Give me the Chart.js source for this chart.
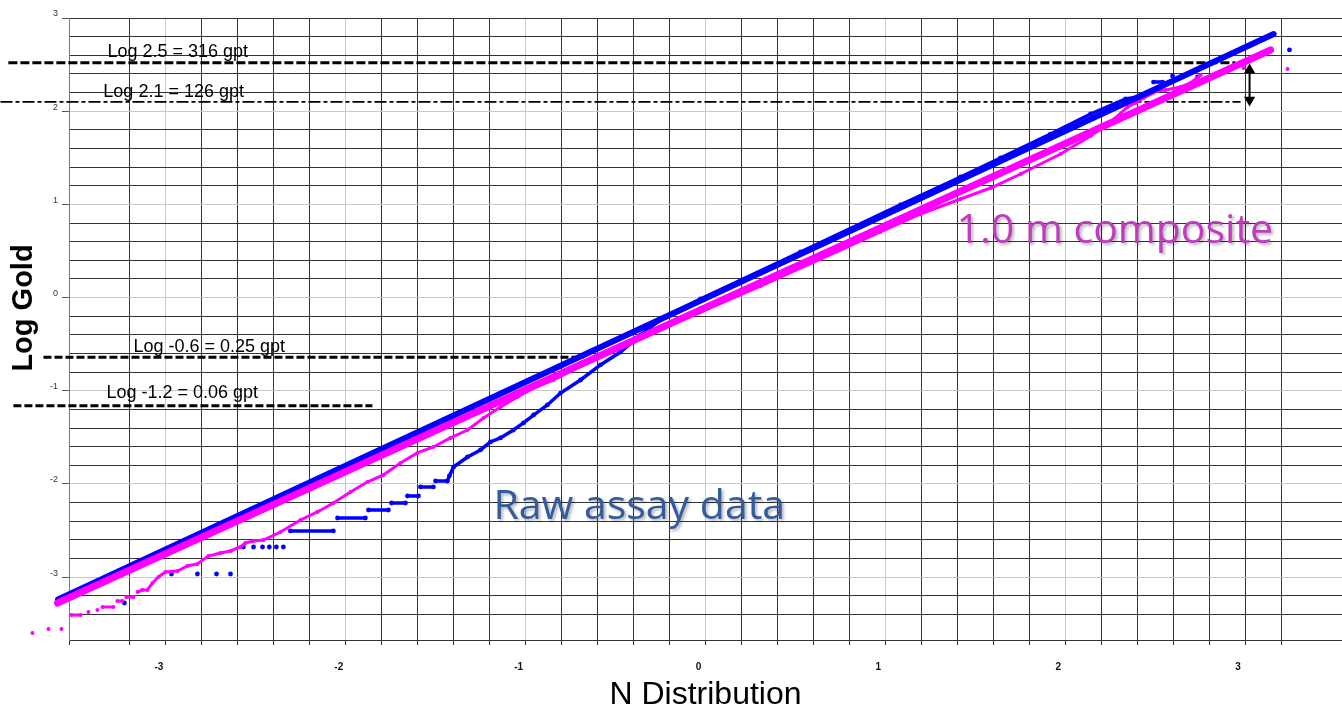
<!DOCTYPE html>
<html>
<head>
<meta charset="utf-8">
<title>Log Gold probability plot</title>
<script src="https://cdn.jsdelivr.net/npm/chart.js@4.4.0/dist/chart.umd.min.js"></script>
<style>
  body { margin: 0; background: #fff; }
  canvas { display: block; }
</style>
</head>
<body>
<canvas id="myChart" width="1342" height="711"></canvas>
<script>
// tick labels shown on the axes
const xTickLabels = [-3, -2, -1, 0, 1, 2, 3];
const yTickLabels = [-3, -2, -1, 0, 1, 2, 3];

// fitted normal lines (end points)
const blueFit = [[-3.6, -3.24], [3.159, 2.828]];
const pinkFit = [[-3.603, -3.277], [3.142, 2.657]];

// raw assay data (blue), null = gap between runs
const blueRaw = [
    [-3.231, -3.277], null,
    [-2.969, -2.966], null, [-2.825, -2.966], null, [-2.719, -2.966], null, [-2.641, -2.966], null,
    [-2.569, -2.676], null, [-2.513, -2.676], null, [-2.463, -2.676], null,
    [-2.425, -2.676], null, [-2.386, -2.676], null, [-2.347, -2.676], null,
    [-2.308, -2.504], [-2.069, -2.504], null,
    [-2.046, -2.365], [-1.891, -2.365], null,
    [-1.874, -2.279], [-1.763, -2.279], null,
    [-1.746, -2.204], [-1.668, -2.204], null,
    [-1.657, -2.129], [-1.596, -2.129], null,
    [-1.585, -2.032], [-1.513, -2.032], null,
    [-1.501, -1.968], [-1.435, -1.968],
    [-1.424, -1.914], [-1.401, -1.818], [-1.323, -1.710], [-1.251, -1.635], [-1.196, -1.549],
    [-1.140, -1.506], [-1.068, -1.421], [-1.012, -1.345], [-0.956, -1.260], [-0.879, -1.152],
    [-0.806, -1.024], [-0.695, -0.884], [-0.584, -0.723], [-0.473, -0.584], [-0.361, -0.401],
    [-0.250, -0.240], [-0.028, -0.015], [0.528, 0.489], [1.084, 0.994], [1.418, 1.294],
    [1.640, 1.498], [1.918, 1.755], [2.141, 1.970], [2.336, 2.131], [2.402, 2.152], null,
    [2.491, 2.313], [2.541, 2.313], null, [2.597, 2.378], null, [2.736, 2.367], null,
    [3.247, 2.657]
];

// 1.0 m composite data (magenta)
const pinkComp = [
    [-3.742, -3.599], null, [-3.653, -3.556], null, [-3.581, -3.556], null,
    [-3.526, -3.406], [-3.475, -3.406], null, [-3.431, -3.373], null, [-3.381, -3.352], null,
    [-3.353, -3.320], [-3.292, -3.320], null, [-3.270, -3.255], [-3.242, -3.255], null,
    [-3.220, -3.212], [-3.181, -3.212], null,
    [-3.158, -3.159], [-3.131, -3.137], [-3.103, -3.137], [-3.075, -3.062], [-3.042, -2.998],
    [-3.003, -2.944], [-2.936, -2.934], [-2.881, -2.880], [-2.825, -2.858], [-2.764, -2.773],
    [-2.697, -2.740], [-2.641, -2.719], [-2.586, -2.676], [-2.558, -2.633], [-2.513, -2.612],
    [-2.458, -2.601], [-2.363, -2.515], [-2.252, -2.386], [-2.158, -2.300], [-2.069, -2.204],
    [-1.974, -2.086], [-1.880, -1.979], [-1.791, -1.903], [-1.696, -1.775], [-1.602, -1.667],
    [-1.513, -1.603], [-1.418, -1.506], [-1.323, -1.421], [-1.234, -1.292], [-1.140, -1.174],
    [-1.045, -1.067], [-0.956, -0.970], [-0.845, -0.884], [-0.695, -0.734], [-0.528, -0.562],
    [-0.306, -0.369], [-0.028, -0.155], [0.306, 0.124], [0.639, 0.414], [0.973, 0.704],
    [1.196, 0.897], [1.418, 1.058], [1.585, 1.176], [1.752, 1.326], [1.974, 1.541],
    [2.141, 1.734], [2.252, 1.884], [2.347, 2.045], [2.391, 2.088], [2.436, 2.142],
    [2.513, 2.217], [2.558, 2.227], [2.641, 2.260], [2.697, 2.303], [2.753, 2.388], null,
    [2.992, 2.464], null, [3.236, 2.453]
];

// reference grade lines
const refY = [2.52, 2.10, -0.64, -1.16];
const refX0 = [-3.876, -3.92, -3.681, -3.848];
const refX1 = [2.947, 2.975, -0.678, -1.852];
const refLabels = ['Log 2.5 = 316 gpt', 'Log 2.1 = 126 gpt', 'Log -0.6 = 0.25 gpt', 'Log -1.2 = 0.06 gpt'];
const refLabelX = [-3.325, -3.348, -3.181, -3.331];
const refLabelY = [2.582, 2.152, -0.584, -1.077];

// double arrow between 2.5 and 2.1
const arrowX = [3.025, 3.025];
const arrowY = [2.442, 2.120];

// series captions
const captions = ['Raw assay data', '1.0 m composite'];
const captionX = [-1.179, 1.396];
const captionY = [-2.376, 0.586];

function toPoints(arr) {
    return arr.map(p => p ? { x: p[0], y: p[1] } : { x: null, y: null });
}

function isInt(v) {
    return Math.abs(v - Math.round(v)) < 1e-6;
}

const FONT = '"Liberation Sans", Arial, sans-serif';
Chart.defaults.font.family = FONT;

let datasets = [
    {
        data: toPoints(pinkFit), showLine: true, borderColor: '#ff00ff', borderWidth: 7,
        borderCapStyle: 'round', pointRadius: 0, clip: false, order: 1
    },
    {
        data: toPoints(blueFit), showLine: true, borderColor: '#0000ff', borderWidth: 6,
        borderCapStyle: 'round', pointRadius: 0, clip: false, order: 2
    },
    {
        data: toPoints(pinkComp), showLine: true, borderColor: '#ff00ff', borderWidth: 3,
        pointRadius: 2, pointBorderWidth: 0, pointBackgroundColor: '#ff00ff', clip: false, order: 3
    },
    {
        data: toPoints(blueRaw), showLine: true, borderColor: '#0000ff', borderWidth: 3.5,
        pointRadius: 2.4, pointBorderWidth: 0, pointBackgroundColor: '#0000ff', clip: false, order: 4
    },
    {
        data: arrowX.map((x, i) => ({ x: x, y: arrowY[i] })), showLine: true,
        borderColor: '#000', borderWidth: 2, pointStyle: 'triangle', pointRadius: 4.5,
        rotation: [0, 180], pointBackgroundColor: '#000', pointBorderColor: '#000', order: 5
    }
];

const refWidth = [3, 1.6, 3, 3];
const refDash = [[9, 3], [12, 3, 4, 3], [8, 3], [8, 3]];
for (let i = 0; i < refY.length; i++) {
    datasets.push({
        data: [{ x: refX0[i], y: refY[i] }, { x: refX1[i], y: refY[i] }],
        showLine: true, borderColor: '#000', borderWidth: refWidth[i], borderDash: refDash[i],
        pointRadius: 0, clip: false, order: 6
    });
}

const gridColor = ctx => (ctx.tick && isInt(ctx.tick.value) && ctx.tick.value < 3) ? '#c9c9c9' : '#333';

// let points left of the y axis be drawn too, then the text on top
let savedArea = null;
const notes = {
    id: 'notes',
    beforeDatasetsDraw(chart) {
        savedArea = chart.chartArea;
        chart.chartArea = Object.assign({}, savedArea, { left: 0 });
    },
    afterDatasetsDraw(chart) {
        if (savedArea) chart.chartArea = savedArea;
        const ctx = chart.ctx, xs = chart.scales.x, ys = chart.scales.y, area = chart.chartArea;
        ctx.save();
        ctx.fillStyle = '#000';
        ctx.font = '18px ' + FONT;
        ctx.textAlign = 'left';
        ctx.textBaseline = 'alphabetic';
        for (let i = 0; i < refLabels.length; i++) {
            ctx.fillText(refLabels[i], xs.getPixelForValue(refLabelX[i]), ys.getPixelForValue(refLabelY[i]));
        }
        ctx.shadowColor = 'rgba(0,0,0,0.3)';
        ctx.shadowOffsetX = 2;
        ctx.shadowOffsetY = 2;
        ctx.shadowBlur = 3;
        ctx.font = '41px "Open Sans", sans-serif';
        const colors = ['#345c9c', '#bf3cbf'];
        for (let i = 0; i < captions.length; i++) {
            ctx.fillStyle = colors[i];
            ctx.fillText(captions[i], xs.getPixelForValue(captionX[i]), ys.getPixelForValue(captionY[i]));
        }
        ctx.restore();

        // y axis title
        ctx.save();
        ctx.translate(24, (area.top + area.bottom) / 2 - 21);
        ctx.rotate(-Math.PI / 2);
        ctx.font = 'bold 29px ' + FONT;
        ctx.fillStyle = '#000';
        ctx.textAlign = 'center';
        ctx.textBaseline = 'middle';
        ctx.fillText('Log Gold', 0, 0);
        ctx.restore();
    }
};

var chart = new Chart(document.getElementById('myChart').getContext('2d'), {
    type: 'scatter',
    data: { datasets: datasets },
    plugins: [notes],
    options: {
        responsive: false,
        animation: false,
        devicePixelRatio: 1,
        layout: { autoPadding: false, padding: { top: 18, left: 0, right: 0, bottom: 0 } },
        plugins: { legend: { display: false }, tooltip: { enabled: false } },
        scales: {
            x: {
                type: 'linear', min: -3.539, max: 3.539,
                afterFit: s => { s.height = 71; s.paddingLeft = 0; s.paddingRight = 0; },
                border: { color: '#333', width: 1 },
                grid: { color: gridColor, tickColor: '#333', tickLength: 5 },
                ticks: {
                    stepSize: 0.2, autoSkip: false, maxRotation: 0,
                    callback: v => (isInt(v) && xTickLabels.includes(Math.round(v))) ? String(Math.round(v)) : '',
                    font: { size: 10, weight: 'bold' }, color: '#111', padding: 16, labelOffset: -7
                },
                title: {
                    display: true, text: 'N Distribution', color: '#000',
                    font: { size: 32, lineHeight: 1 }, padding: { top: 0, bottom: 0 }
                }
            },
            y: {
                type: 'linear', min: -3.674, max: 3,
                afterFit: s => { s.width = 69; s.paddingTop = 0; s.paddingBottom = 0; },
                border: { color: '#777', width: 1 },
                grid: {
                    color: gridColor, tickLength: 7,
                    tickColor: ctx => (ctx.tick && isInt(ctx.tick.value)) ? '#555' : 'rgba(0,0,0,0)'
                },
                ticks: {
                    stepSize: 0.2, autoSkip: false,
                    callback: v => (isInt(v) && yTickLabels.includes(Math.round(v))) ? String(Math.round(v)) : '',
                    font: { size: 9 }, color: '#333', padding: 4, labelOffset: -4
                }
            }
        }
    }
});
</script>
</body>
</html>
